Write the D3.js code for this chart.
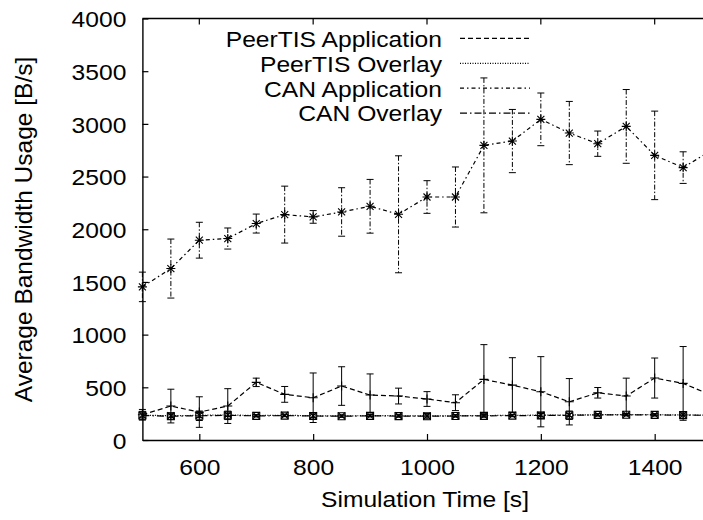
<!DOCTYPE html>
<html><head><meta charset="utf-8">
<script src="https://cdn.jsdelivr.net/npm/d3@7"></script>
<style>
body{margin:0;background:#fff}
svg{display:block}
text{font-family:"Liberation Sans",Arial,Helvetica,sans-serif;fill:#000}
</style>
</head><body>
<svg id="c" width="703" height="520"></svg>
<script>
// ---------- data ----------
const times = [500,550,600,650,700,750,800,850,900,950,1000,1050,1100,1150,1200,1250,1300,1350,1400,1450,1500];

const peerApp    = [240,322,265,322,547,433,401,512,427,417,389,354,575,521,458,363,448,417,588,537,425];
const peerAppErr = [50,160,145,165,40,75,235,183,200,75,70,75,330,260,333,220,50,170,190,350,100];

const peerOv     = [236,230,234,238,232,235,230,228,232,230,228,230,232,234,236,237,240,241,240,238,236];
const peerOvErr  = [20,15,20,15,10,10,15,10,10,10,10,10,15,10,15,15,10,10,10,10,10];

const canApp     = [1453,1627,1896,1912,2054,2139,2117,2164,2218,2142,2306,2306,2796,2837,3043,2913,2812,2976,2701,2585,2750];
const canAppErr  = [140,280,170,100,90,270,60,230,255,555,155,285,640,300,250,300,120,350,420,150,200];

const canOv      = [232,226,230,234,229,231,228,226,229,227,226,228,229,231,233,235,238,239,238,236,234];
const canOvErr   = [40,30,45,40,10,10,30,10,10,10,25,10,10,10,30,40,10,10,10,30,10];

const xTicks = [600,800,1000,1200,1400];
const yTicks = [0,500,1000,1500,2000,2500,3000,3500,4000];
const legendLabels = ["PeerTIS Application","PeerTIS Overlay","CAN Application","CAN Overlay"];
const xTitle = "Simulation Time [s]";
const yTitle = "Average Bandwidth Usage [B/s]";

// ---------- setup ----------
const FS = 22, SX = 1.12;
const svg = d3.select("#c");
const x = d3.scaleLinear().domain([500,1500]).range([142.4,711.6]);
const y = d3.scaleLinear().domain([0,4000]).range([440,18.5]);
const fmt = d3.format("d");

// axes
const gy = svg.append("g").attr("transform",`translate(${x(500)},0)`)
  .call(d3.axisLeft(y).tickValues(yTicks).tickFormat(fmt).tickSizeInner(-6).tickSizeOuter(0).tickPadding(16));
gy.selectAll("text").attr("font-size",FS).attr("font-family",null)
  .attr("transform",`scale(${SX},1)`).attr("x",-16/SX).attr("dy",8.3);
const gx = svg.append("g").attr("transform",`translate(0,${y(0)})`)
  .call(d3.axisBottom(x).tickValues(xTicks).tickFormat(fmt).tickSizeInner(-6).tickSizeOuter(0).tickPadding(16));
gx.selectAll("text").attr("font-size",FS).attr("font-family",null)
  .attr("transform",`scale(${SX},1)`).attr("x",0).attr("y",35).attr("dy",0);
svg.selectAll(".domain").attr("stroke","#000").attr("stroke-width",1.4);
svg.selectAll(".tick line").attr("stroke","#000").attr("stroke-width",1.2);

// top border with mirrored ticks
svg.append("line").attr("x1",x(500)).attr("x2",703).attr("y1",y(4000)).attr("y2",y(4000))
  .attr("stroke","#000").attr("stroke-width",1.4);
svg.selectAll(".ttick").data(xTicks).enter().append("line")
  .attr("x1",d=>x(d)).attr("x2",d=>x(d)).attr("y1",y(4000)).attr("y2",y(4000)+6)
  .attr("stroke","#000").attr("stroke-width",1.2);

// titles
svg.append("text").attr("font-size",FS).attr("text-anchor","middle")
  .attr("transform",`translate(425,507) scale(${SX},1)`).text(xTitle);
svg.append("text").attr("font-size",24.5).attr("text-anchor","middle")
  .attr("transform","translate(32,229.5) rotate(-90)").text(yTitle);

// ---------- series ----------
const M = {
  plus:"M-4.5,0H4.5M0,-4.5V4.5",
  cross:"M-3.5,-3.5L3.5,3.5M-3.5,3.5L3.5,-3.5",
  star:"M-4.5,0H4.5M0,-4.5V4.5M-3.5,-3.5L3.5,3.5M-3.5,3.5L3.5,-3.5",
  square:"M-3.5,-3.5H3.5V3.5H-3.5Z"
};
const series = [
  {vals:peerApp, err:peerAppErr, dash:"5,3", edash:null, mark:"plus"},
  {vals:peerOv,  err:peerOvErr,  dash:"1,1.5", edash:"1,1.5", mark:"cross"},
  {vals:canApp,  err:canAppErr,  dash:"4,3,1.5,3", edash:"5,2,1.5,2", mark:"star"},
  {vals:canOv,   err:canOvErr,   dash:"7,3,1.5,3", edash:"7,3,1.5,3", mark:"square"}
];
const line = d3.line().x(d=>x(d[0])).y(d=>y(d[1]));
series.forEach(s=>{
  const pts = times.map((t,i)=>[t,s.vals[i],s.err[i]]);
  const g = svg.append("g");
  g.selectAll(".eb").data(pts).enter().append("line")
    .attr("x1",d=>x(d[0])).attr("x2",d=>x(d[0]))
    .attr("y1",d=>y(d[1]+d[2])).attr("y2",d=>y(Math.max(0,d[1]-d[2])))
    .attr("stroke","#000").attr("stroke-width",1).attr("stroke-dasharray",s.edash);
  ["top","bot"].forEach(k=>{
    g.selectAll(".cap"+k).data(pts).enter().append("line")
      .attr("x1",d=>x(d[0])-3.5).attr("x2",d=>x(d[0])+3.5)
      .attr("y1",d=>y(k==="top"?d[1]+d[2]:Math.max(0,d[1]-d[2])))
      .attr("y2",d=>y(k==="top"?d[1]+d[2]:Math.max(0,d[1]-d[2])))
      .attr("stroke","#000").attr("stroke-width",1);
  });
  g.append("path").attr("d",line(pts)).attr("fill","none")
    .attr("stroke","#000").attr("stroke-width",1.2).attr("stroke-dasharray",s.dash);
  g.selectAll(".mk").data(pts).enter().append("path")
    .attr("d",M[s.mark]).attr("transform",d=>`translate(${x(d[0])},${y(d[1])})`)
    .attr("fill","none").attr("stroke","#000").attr("stroke-width",1.1);
});

// ---------- legend ----------
const lg = svg.append("g");
legendLabels.forEach((lab,i)=>{
  const by = 46.7 + i*24.9;
  lg.append("text").attr("font-size",FS).attr("text-anchor","end")
    .attr("transform",`translate(442,${by}) scale(${SX},1)`).text(lab);
  lg.append("line").attr("x1",460).attr("x2",530).attr("y1",by-8.3).attr("y2",by-8.3)
    .attr("stroke","#000").attr("stroke-width",1.2).attr("stroke-dasharray",series[i].dash);
});
</script>
</body></html>
